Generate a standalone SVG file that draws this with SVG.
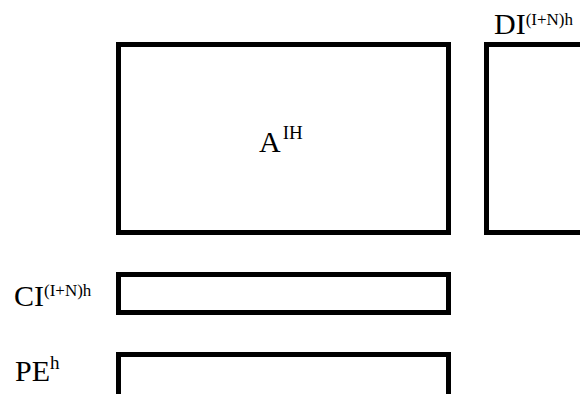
<svg xmlns="http://www.w3.org/2000/svg" width="580" height="394" viewBox="0 0 580 394">
<style>
.box{fill:#fff;stroke:#000;stroke-width:5}
.t{font-family:"Liberation Serif","Times New Roman",serif;fill:#000}
.m{font-size:30px}
.s{font-size:17px}
.s2{font-size:19px}
</style>
<rect width="580" height="394" fill="#fff"/>
<g id="node-A">
<rect class="box" x="118.5" y="44.5" width="330" height="188"/>
<text class="t m" x="259" y="152">A<tspan class="s2" dx="2" dy="-13">IH</tspan></text>
</g>
<g id="node-DI">
<rect class="box" x="486.5" y="44.5" width="120" height="188"/>
<text class="t m" x="494" y="34">DI<tspan class="s" dy="-9">(I+N)h</tspan></text>
</g>
<g id="node-CI">
<rect class="box" x="118.5" y="274.5" width="330" height="38"/>
<text class="t m" x="14" y="306">CI<tspan class="s" dy="-10">(I+N)h</tspan></text>
</g>
<g id="node-PE">
<rect class="box" x="118.5" y="354.5" width="330" height="50"/>
<text class="t m" x="15" y="381">PE<tspan class="s2" dy="-12">h</tspan></text>
</g>
<g id="connectors"></g>
</svg>
